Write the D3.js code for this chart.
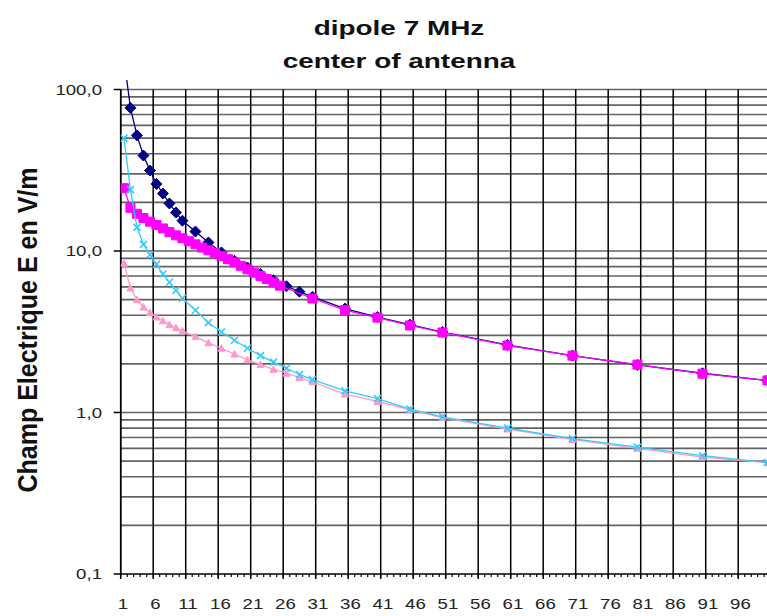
<!DOCTYPE html>
<html>
<head>
<meta charset="utf-8">
<script src="https://cdn.jsdelivr.net/npm/d3@7"></script>
<style>
  body { margin: 0; background: #fff; }
  svg { display: block; font-family: Arial, "Liberation Sans", sans-serif; }
</style>
</head>
<body>
<svg width="767" height="616"></svg>
<script>
// distances (category numbers) where values were computed
var categories = [1, 2, 3, 4, 5, 6, 7, 8, 9, 10, 12, 14, 16, 18, 20, 22, 24, 26, 28, 30, 35, 40, 45, 50, 60, 70, 80, 90, 100];
// magenta series was computed on a finer step near the antenna
var magentaCategories = [1, 2, 3, 4, 5, 6, 7, 8, 9, 10, 11, 12, 13, 14, 15, 16, 17, 18, 19, 20, 21, 22, 23, 24, 25, 30, 35, 40, 45, 50, 60, 70, 80, 90, 100];

var navySeries = [155, 77, 52, 39, 31.5, 26, 22.7, 19.7, 17.3, 15.4, 13.2, 11.3, 9.8, 8.7, 7.9, 7.2, 6.6, 6.05, 5.6, 5.2, 4.4, 3.9, 3.5, 3.15, 2.62, 2.25, 1.97, 1.75, 1.58];
var magentaSeries = [24.5, 18.5, 17, 16, 15.2, 14.5, 13.8, 13.1, 12.5, 12.0, 11.5, 11.0, 10.5, 10.1, 9.7, 9.3, 8.9, 8.5, 8.1, 7.7, 7.35, 7.0, 6.7, 6.4, 6.1, 5.08, 4.3, 3.87, 3.46, 3.13, 2.6, 2.25, 1.98, 1.74, 1.58];
var pinkSeries = [8.4, 5.9, 5.0, 4.5, 4.15, 3.9, 3.7, 3.5, 3.35, 3.2, 2.95, 2.7, 2.5, 2.3, 2.12, 1.98, 1.85, 1.75, 1.65, 1.55, 1.3, 1.17, 1.04, 0.93, 0.79, 0.68, 0.6, 0.53, 0.49];
var cyanSeries = [50, 24, 14, 11, 9.5, 8.3, 7.2, 6.4, 5.7, 5.1, 4.3, 3.6, 3.15, 2.8, 2.5, 2.25, 2.05, 1.88, 1.72, 1.6, 1.36, 1.22, 1.05, 0.94, 0.8, 0.69, 0.61, 0.54, 0.49];

var xTickLabels = [1, 6, 11, 16, 21, 26, 31, 36, 41, 46, 51, 56, 61, 66, 71, 76, 81, 86, 91, 96];
var yTickValues = [0.1, 1, 10, 100];
var yTickLabels = ["0,1", "1,0", "10,0", "100,0"];

var titleLines = ["dipole 7 MHz", "center of antenna"];
var yTitle = "Champ Electrique E en V/m";

var svg = d3.select("svg"),
    width = +svg.attr("width"),
    height = +svg.attr("height");

var plot = { left: 120.7, right: 770.7, top: 89.5, bottom: 574 };
var stretch = 1.33; // picture is squeezed wide, text too

var x = d3.scaleLinear().domain([0.5, 100.5]).range([plot.left, plot.right]);
var y = d3.scaleLog().domain([0.1, 100]).range([plot.bottom, plot.top]);

svg.append("rect").attr("width", width).attr("height", height).attr("fill", "#fff");

// horizontal log gridlines (1..9 per decade)
var minorY = [];
[0.1, 1, 10].forEach(function (d) {
    for (var k = 2; k <= 9; k++) minorY.push(d * k);
});
minorY = minorY.concat([1, 10, 100]);

svg.append("g")
    .attr("class", "grid-y")
    .selectAll("line")
    .data(minorY)
    .enter().append("line")
    .attr("x1", plot.left).attr("x2", width)
    .attr("y1", function (d) { return y(d); })
    .attr("y2", function (d) { return y(d); })
    .attr("stroke", "#636363")
    .attr("stroke-width", 1.7);

// vertical gridlines every 5 categories, running down as major ticks
var majorX = d3.range(0, 101, 5).map(function (d) { return d + 0.5; });
svg.append("g")
    .attr("class", "grid-x")
    .selectAll("line")
    .data(majorX)
    .enter().append("line")
    .attr("x1", function (d) { return x(d); })
    .attr("x2", function (d) { return x(d); })
    .attr("y1", plot.top)
    .attr("y2", plot.bottom + 5)
    .attr("stroke", "#000")
    .attr("stroke-width", 1.5);

// minor ticks at every category
svg.append("g")
    .selectAll("line")
    .data(d3.range(0, 101).map(function (d) { return d + 0.5; }))
    .enter().append("line")
    .attr("x1", function (d) { return x(d); })
    .attr("x2", function (d) { return x(d); })
    .attr("y1", plot.bottom)
    .attr("y2", plot.bottom + 3)
    .attr("stroke", "#000")
    .attr("stroke-width", 1.2);

// axes lines
svg.append("line")
    .attr("x1", plot.left).attr("x2", plot.left)
    .attr("y1", plot.top).attr("y2", plot.bottom)
    .attr("stroke", "#000").attr("stroke-width", 1.5);
svg.append("line")
    .attr("x1", plot.left).attr("x2", width)
    .attr("y1", plot.bottom).attr("y2", plot.bottom)
    .attr("stroke", "#000").attr("stroke-width", 1.5);

// y ticks + labels
var yAxis = svg.append("g").attr("class", "y-axis");
yAxis.selectAll("line")
    .data(yTickValues)
    .enter().append("line")
    .attr("x1", plot.left - 7).attr("x2", plot.left)
    .attr("y1", function (d) { return y(d); })
    .attr("y2", function (d) { return y(d); })
    .attr("stroke", "#000").attr("stroke-width", 1.5);
yAxis.selectAll("text")
    .data(yTickValues)
    .enter().append("text")
    .attr("transform", function (d) { return "translate(102," + (y(d) + 5) + ") scale(" + stretch + ",1)"; })
    .attr("text-anchor", "end")
    .attr("font-size", 14)
    .attr("fill", "#222")
    .text(function (d, i) { return yTickLabels[i]; });

// x labels
svg.append("g")
    .attr("class", "x-axis")
    .selectAll("text")
    .data(xTickLabels)
    .enter().append("text")
    .attr("transform", function (d) { return "translate(" + (x(d) - 1) + ",609) scale(" + stretch + ",1)"; })
    .attr("text-anchor", "middle")
    .attr("font-size", 14)
    .attr("fill", "#222")
    .text(function (d) { return d; });

// titles
svg.selectAll(".title")
    .data(titleLines)
    .enter().append("text")
    .attr("class", "title")
    .attr("transform", function (d, i) { return "translate(399," + (35 + i * 33) + ") scale(" + stretch + ",1)"; })
    .attr("text-anchor", "middle")
    .attr("font-size", 21)
    .attr("font-weight", "bold")
    .attr("fill", "#111")
    .text(function (d) { return d; });

svg.append("text")
    .attr("transform", "translate(37,330) scale(" + stretch + ",1) rotate(-90)")
    .attr("text-anchor", "middle")
    .attr("font-size", 21)
    .attr("font-weight", "bold")
    .attr("textLength", 325)
    .attr("lengthAdjust", "spacingAndGlyphs")
    .attr("fill", "#111")
    .text(yTitle);

// series
svg.append("clipPath").attr("id", "clip")
    .append("rect")
    .attr("x", plot.left).attr("y", 80)
    .attr("width", width - plot.left).attr("height", plot.bottom - 80);

var series = [
    { cats: categories, values: navySeries, color: "#000080", marker: "diamond" },
    { cats: magentaCategories, values: magentaSeries, color: "#ff00ff", marker: "square" },
    { cats: categories, values: pinkSeries, color: "#ff99cc", marker: "triangle" },
    { cats: categories, values: cyanSeries, color: "#33ccff", marker: "cross" }
];

var line = d3.line()
    .x(function (d) { return x(d[0]); })
    .y(function (d) { return y(d[1]); });

var markerPath = {
    diamond: "M0,-5.5L5.5,0L0,5.5L-5.5,0Z",
    square: "M-4.5,-4.5H4.5V4.5H-4.5Z",
    triangle: "M0,-3.5L3.5,3L-3.5,3Z",
    cross: "M-3.5,-3.5L3.5,3.5M-3.5,3.5L3.5,-3.5"
};

var seriesG = svg.append("g").attr("clip-path", "url(#clip)");

series.forEach(function (s) {
    var pts = s.cats.map(function (c, i) { return [c, s.values[i]]; });
    var g = seriesG.append("g");
    g.append("path")
        .datum(pts)
        .attr("d", line)
        .attr("fill", "none")
        .attr("stroke", s.color)
        .attr("stroke-width", 1.3);
    g.selectAll("path.m")
        .data(pts)
        .enter().append("path")
        .attr("class", "m")
        .attr("transform", function (d) { return "translate(" + x(d[0]) + "," + y(d[1]) + ")"; })
        .attr("d", markerPath[s.marker])
        .attr("fill", s.marker === "cross" ? "none" : s.color)
        .attr("stroke", s.color)
        .attr("stroke-width", s.marker === "cross" ? 1.6 : 1);
});
</script>
</body>
</html>
